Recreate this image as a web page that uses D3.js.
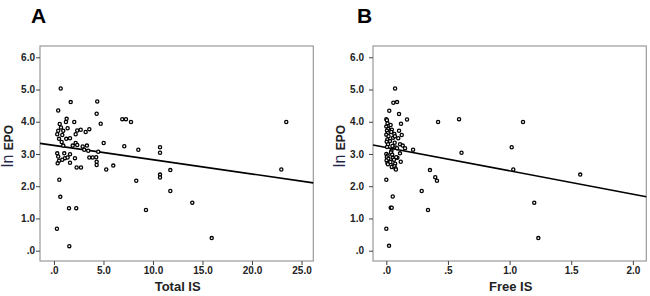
<!DOCTYPE html>
<html lang="en">
<head>
<meta charset="UTF-8">
<title>ln EPO vs IS</title>
<script src="https://d3js.org/d3.v7.min.js"></script>
<style>
  html, body { margin: 0; background: #fff; overflow: hidden; }
  text { font-family: "Liberation Sans", Arial, sans-serif; }
</style>
</head>
<body>
<svg id="svg"></svg>
<script>
// ---- data ----
const totalIS = [0.68, 1.69, 4.37, 0.43, 4.31, 1.28, 4.72, 2.05, 1.21, 0.58,
  1.38, 0.71, 2.35, 2.70, 3.20, 3.57, 0.43, 0.94, 0.33, 0.84,
  2.19, 1.62, 1.24, 0.51, 0.78, 2.19, 5.02, 0.94, 1.89, 2.35,
  2.90, 3.33, 3.06, 3.46, 4.47, 0.33, 1.04, 1.62, 0.43, 1.11,
  1.38, 2.12, 3.57, 3.91, 4.27, 0.51, 0.84, 1.62, 4.31, 0.37,
  4.31, 2.29, 2.73, 5.28, 5.99, 0.54, 0.64, 1.52, 2.25, 0.30,
  1.55, 6.90, 7.27, 7.78, 23.46, 7.10, 8.52, 10.71, 10.71, 11.75,
  10.71, 10.71, 8.31, 22.96, 11.75, 13.97, 9.29, 15.93];
const lnEpoA = [5.03, 4.61, 4.63, 4.35, 4.25, 4.09, 3.94, 3.99, 3.99, 3.93,
  3.80, 3.82, 3.73, 3.75, 3.68, 3.77, 3.72, 3.72, 3.61, 3.59,
  3.61, 3.49, 3.47, 3.47, 3.37, 3.34, 3.34, 3.26, 3.26, 3.28,
  3.23, 3.26, 3.13, 3.10, 3.07, 3.02, 3.02, 2.99, 2.92, 2.87,
  2.89, 2.87, 2.89, 2.89, 2.90, 2.79, 2.82, 2.73, 2.76, 2.71,
  2.66, 2.58, 2.58, 2.52, 2.64, 2.20, 1.67, 1.32, 1.32, 0.68,
  0.14, 4.08, 4.08, 3.99, 3.99, 3.24, 3.13, 3.21, 3.04, 2.50,
  2.36, 2.27, 2.17, 2.52, 1.85, 1.49, 1.26, 0.39];

const freeIS = [0.071, 0.057, 0.087, 0.024, 0.103, 0.168, 0.42, 0.59, 0.0, 0.119,
  0.103, 0.217, 0.61, 0.117, 0.354, 0.397, 0.411, 0.0, 0.287, 0.052,
  0.036, 0.044, 0.338, 0.0, 0.022, 1.109, 1.017, 1.03, 1.573, 1.20,
  1.233,
  0.005, 0.01, 0.0, 0.015, 0.005, 0.012, 0.0, 0.018, 0.008, 0.003,
  0.014, 0.006, 0.0, 0.011, 0.004, 0.016, 0.002, 0.009, 0.013,
  0.035, 0.045, 0.04, 0.055, 0.03, 0.05, 0.042, 0.038, 0.048, 0.052,
  0.033, 0.058, 0.044,
  0.065, 0.07, 0.068, 0.075, 0.062, 0.072, 0.066, 0.074, 0.078,
  0.125, 0.097, 0.111, 0.133, 0.152, 0.087, 0.111, 0.09, 0.08];
const lnEpoB = [5.03, 4.59, 4.61, 4.34, 4.24, 4.07, 3.99, 4.08, 4.08, 3.94,
  3.72, 3.13, 3.04, 2.76, 2.50, 2.28, 2.17, 2.20, 1.85, 1.68,
  1.33, 1.33, 1.26, 0.68, 0.15, 3.99, 3.21, 2.52, 2.36, 1.49,
  0.39,
  4.05, 3.95, 3.85, 3.78, 3.72, 3.65, 3.60, 3.55, 3.45, 3.38,
  3.30, 3.22, 3.00, 2.95, 2.90, 2.85, 2.80, 2.72, 2.68,
  3.90, 3.75, 3.68, 3.50, 3.40, 3.25, 3.10, 3.05, 2.98, 2.88,
  2.75, 2.65, 2.60,
  3.62, 3.55, 3.35, 3.20, 2.82, 2.70, 2.62, 2.55, 2.52,
  3.59, 3.49, 3.30, 3.26, 3.18, 3.18, 3.02, 2.88, 2.90];

// fitted lines (intercept, slope)
const fitA = [3.267, -0.0444];
const fitB = [3.202, -0.724];

const yTicks = [0, 1, 2, 3, 4, 5, 6];
const yTickLabels = [".0", "1.0", "2.0", "3.0", "4.0", "5.0", "6.0"];
const xTicksA = [0, 5, 10, 15, 20, 25];
const xTickLabelsA = [".0", "5.0", "10.0", "15.0", "20.0", "25.0"];
const xTicksB = [0, 0.5, 1, 1.5, 2];
const xTickLabelsB = [".0", ".5", "1.0", "1.5", "2.0"];

const svg = d3.select("#svg").attr("width", 650).attr("height", 296);

const y = d3.scaleLinear().domain([-0.32, 6.35]).range([261, 46]);

function panel(opt) {
  const g = svg.append("g");
  const x = d3.scaleLinear().domain(opt.xDomain).range(opt.xRange);
  const [x0, x1] = opt.xRange;

  g.append("text")
    .attr("x", opt.letterX).attr("y", 23)
    .attr("font-size", 21).attr("font-weight", "bold")
    .text(opt.letter);

  g.append("rect")
    .attr("x", x0).attr("y", 46)
    .attr("width", x1 - x0).attr("height", 261 - 46)
    .attr("fill", "#fff").attr("stroke", "#9a9a9a").attr("stroke-width", 1.2);

  const yAxis = g.append("g")
    .attr("transform", `translate(${x0},0)`)
    .call(d3.axisLeft(y).tickValues(yTicks).tickSize(4).tickPadding(opt.yPad)
      .tickFormat((d, i) => yTickLabels[i]));
  const xAxis = g.append("g")
    .attr("transform", "translate(0,261)")
    .call(d3.axisBottom(x).tickValues(opt.xTicks).tickSize(4).tickPadding(2)
      .tickFormat((d, i) => opt.xTickLabels[i]));
  [yAxis, xAxis].forEach(a => {
    a.select(".domain").remove();
    a.selectAll("line").attr("stroke", "#444");
    a.selectAll("text").attr("font-size", 10).attr("font-weight", "bold")
      .attr("fill", "#222").style("font-family", "Liberation Sans, Arial, sans-serif");
  });

  // fit line
  const [b0, b1] = opt.fit;
  const xd = opt.xDomain;
  g.append("line")
    .attr("x1", x(xd[0])).attr("y1", y(b0 + b1 * xd[0]))
    .attr("x2", x(xd[1])).attr("y2", y(b0 + b1 * xd[1]))
    .attr("stroke", "#000").attr("stroke-width", 1.6);

  g.selectAll("circle.pt").data(opt.xs).join("circle")
    .attr("class", "pt")
    .attr("cx", d => x(d))
    .attr("cy", (d, i) => y(opt.ys[i]))
    .attr("r", 1.6)
    .attr("fill", "#fff").attr("stroke", "#000").attr("stroke-width", 1.3);

  // axis titles
  g.append("text")
    .attr("x", (x0 + x1) / 2 + 1).attr("y", 291)
    .attr("text-anchor", "middle")
    .attr("font-size", 13).attr("font-weight", "bold").attr("fill", "#222")
    .text(opt.xLabel);

  const yl = g.append("text")
    .attr("transform", `translate(${opt.yLabelX},146) rotate(-90)`)
    .attr("text-anchor", "middle").attr("fill", "#222");
  yl.append("tspan").attr("font-size", 16).attr("fill", "#26284a").text("ln ");
  yl.append("tspan").attr("font-size", 12).attr("font-weight", "bold").text("EPO");
}

panel({
  letter: "A", letterX: 31,
  xDomain: [-1.41, 26.19], xRange: [40, 313.3],
  xTicks: xTicksA, xTickLabels: xTickLabelsA,
  xs: totalIS, ys: lnEpoA, fit: fitA, yPad: 1,
  xLabel: "Total IS", yLabelX: 13
});
panel({
  letter: "B", letterX: 357,
  xDomain: [-0.108, 2.109], xRange: [373, 646.3],
  xTicks: xTicksB, xTickLabels: xTickLabelsB,
  xs: freeIS, ys: lnEpoB, fit: fitB, yPad: 5,
  xLabel: "Free IS", yLabelX: 345
});
</script>
</body>
</html>
